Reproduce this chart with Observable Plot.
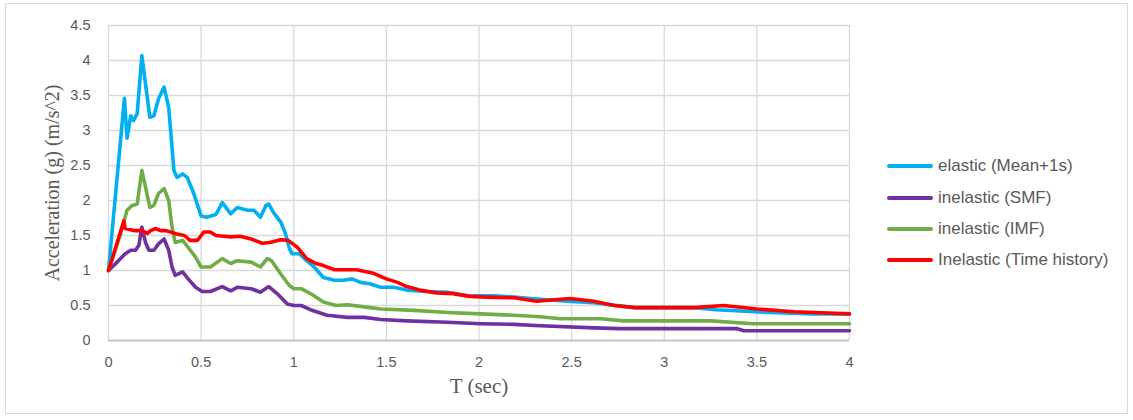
<!DOCTYPE html>
<html>
<head>
<meta charset="utf-8">
<script src="https://cdn.jsdelivr.net/npm/d3@7"></script>
<script src="https://cdn.jsdelivr.net/npm/@observablehq/plot@0.6"></script>
<style>
  body { margin: 0; background: #fff; }
  #wrap { position: relative; width: 1133px; height: 420px; overflow: hidden; }
  #frame { position: absolute; left: 5px; top: 3px; width: 1123px; height: 411px; border: 1px solid #d9d9d9; box-sizing: border-box; pointer-events: none; }
  #chart { position: absolute; left: 0; top: 0; }
  .leg { position: absolute; left: 887px; display: flex; align-items: center; font-family: "Liberation Sans", "DejaVu Sans", sans-serif; font-size: 17px; color: #595959; white-space: nowrap; }
  .leg .sw { width: 46px; height: 4.5px; border-radius: 2px; margin-right: 5px; }
</style>
</head>
<body>
<div id="wrap">
  <div id="chart"></div>
  <div id="frame"></div>
</div>
<script>
// ---- Data ----
const seriesNames = ["elastic (Mean+1s)", "inelastic (SMF)", "inelastic (IMF)", "Inelastic (Time history)"];
const seriesColors = ["#00b0f0", "#7030a0", "#70ad47", "#ff0000"];

const xTicks = [0, 0.5, 1, 1.5, 2, 2.5, 3, 3.5, 4];
const yTicks = [0, 0.5, 1, 1.5, 2, 2.5, 3, 3.5, 4, 4.5];

const elasticT = [0, 0.086, 0.10, 0.12, 0.135, 0.155, 0.18, 0.223, 0.245, 0.27, 0.30, 0.325, 0.353, 0.37, 0.40, 0.425, 0.46, 0.50, 0.53, 0.58, 0.614, 0.66, 0.695, 0.75, 0.785, 0.82, 0.85, 0.865, 0.89, 0.93, 0.955, 0.975, 0.99, 1.03, 1.07, 1.11, 1.16, 1.22, 1.27, 1.315, 1.36, 1.41, 1.47, 1.54, 1.61, 1.72, 1.83, 1.94, 2.08, 2.19, 2.28, 2.47, 2.62, 2.84, 3.16, 3.28, 3.57, 3.8, 4.0];
const elasticA = [1, 3.46, 2.89, 3.21, 3.14, 3.24, 4.07, 3.19, 3.21, 3.45, 3.62, 3.33, 2.43, 2.33, 2.38, 2.33, 2.10, 1.78, 1.76, 1.80, 1.97, 1.81, 1.90, 1.86, 1.86, 1.76, 1.93, 1.95, 1.83, 1.69, 1.53, 1.33, 1.24, 1.24, 1.14, 1.05, 0.90, 0.86, 0.86, 0.88, 0.83, 0.81, 0.76, 0.76, 0.72, 0.70, 0.69, 0.64, 0.64, 0.62, 0.60, 0.56, 0.54, 0.47, 0.47, 0.44, 0.40, 0.38, 0.38];

const smfT = [0, 0.047, 0.09, 0.12, 0.146, 0.164, 0.18, 0.20, 0.218, 0.245, 0.27, 0.30, 0.325, 0.343, 0.36, 0.40, 0.43, 0.47, 0.505, 0.55, 0.614, 0.66, 0.695, 0.77, 0.82, 0.865, 0.91, 0.965, 1.0, 1.04, 1.09, 1.18, 1.29, 1.38, 1.47, 1.61, 1.83, 2.01, 2.19, 2.33, 2.62, 2.76, 3.39, 3.43, 4.0];
const smfA = [1, 1.12, 1.24, 1.29, 1.29, 1.36, 1.62, 1.40, 1.29, 1.29, 1.38, 1.45, 1.29, 1.05, 0.93, 0.98, 0.88, 0.76, 0.70, 0.70, 0.77, 0.71, 0.76, 0.74, 0.69, 0.77, 0.67, 0.52, 0.50, 0.50, 0.44, 0.36, 0.33, 0.33, 0.30, 0.28, 0.26, 0.24, 0.23, 0.21, 0.18, 0.17, 0.17, 0.14, 0.14];

const imfT = [0, 0.065, 0.10, 0.128, 0.155, 0.18, 0.20, 0.223, 0.245, 0.27, 0.30, 0.325, 0.343, 0.36, 0.40, 0.43, 0.47, 0.50, 0.55, 0.614, 0.66, 0.695, 0.77, 0.82, 0.857, 0.88, 0.93, 0.975, 1.0, 1.04, 1.09, 1.16, 1.23, 1.29, 1.38, 1.47, 1.65, 1.83, 2.01, 2.19, 2.33, 2.44, 2.66, 2.78, 3.25, 3.48, 4.0];
const imfA = [1, 1.52, 1.86, 1.93, 1.95, 2.43, 2.19, 1.90, 1.93, 2.10, 2.17, 2.0, 1.62, 1.40, 1.43, 1.33, 1.19, 1.05, 1.05, 1.17, 1.10, 1.14, 1.12, 1.05, 1.17, 1.14, 0.95, 0.79, 0.74, 0.74, 0.67, 0.55, 0.50, 0.51, 0.48, 0.45, 0.43, 0.40, 0.38, 0.36, 0.34, 0.31, 0.31, 0.28, 0.28, 0.24, 0.24];

const thT = [0, 0.083, 0.09, 0.137, 0.18, 0.21, 0.227, 0.254, 0.28, 0.31, 0.335, 0.37, 0.41, 0.44, 0.48, 0.515, 0.55, 0.58, 0.66, 0.71, 0.77, 0.83, 0.87, 0.93, 0.97, 1.02, 1.07, 1.12, 1.16, 1.22, 1.34, 1.43, 1.50, 1.56, 1.61, 1.68, 1.77, 1.86, 1.95, 2.04, 2.19, 2.31, 2.49, 2.62, 2.73, 2.84, 3.16, 3.32, 3.50, 3.70, 4.0];
const thA = [1, 1.71, 1.60, 1.57, 1.57, 1.53, 1.57, 1.60, 1.57, 1.57, 1.55, 1.52, 1.50, 1.43, 1.43, 1.55, 1.55, 1.50, 1.48, 1.49, 1.45, 1.39, 1.40, 1.44, 1.43, 1.33, 1.17, 1.10, 1.07, 1.01, 1.01, 0.96, 0.88, 0.83, 0.77, 0.72, 0.68, 0.67, 0.63, 0.62, 0.61, 0.56, 0.60, 0.56, 0.50, 0.47, 0.47, 0.50, 0.45, 0.41, 0.38];

const xLabel = "T (sec)";
const yLabel = "Acceleration (g) (m/s^2)";

// ---- Build table ----
const seriesT = [elasticT, smfT, imfT, thT];
const seriesA = [elasticA, smfA, imfA, thA];
const table = seriesNames.flatMap((name, i) =>
  seriesT[i].map((t, j) => ({series: name, T: t, A: seriesA[i][j]}))
);

const tickFont = "'Liberation Sans', 'DejaVu Sans', sans-serif";
const titleFont = "'Liberation Serif', 'DejaVu Serif', serif";

const chart = Plot.plot({
  width: 1133,
  height: 420,
  marginLeft: 108,
  marginRight: 284,
  marginTop: 25,
  marginBottom: 80,
  style: {fontFamily: tickFont, fontSize: "14.5px", color: "#595959", background: "transparent"},
  x: {domain: [0, 4], label: null},
  y: {domain: [0, 4.5], label: null},
  color: {domain: seriesNames, range: seriesColors},
  marks: [
    Plot.gridX(xTicks, {stroke: "#d9d9d9", strokeOpacity: 1, strokeWidth: 1.3}),
    Plot.gridY(yTicks, {stroke: "#d9d9d9", strokeOpacity: 1, strokeWidth: 1.3}),
    Plot.ruleY([0], {stroke: "#bfbfbf", strokeWidth: 1.3}),
    Plot.axisX({ticks: xTicks, tickSize: 0, tickPadding: 16, tickFormat: d => String(d), fill: "#595959"}),
    Plot.axisY({ticks: yTicks, tickSize: 0, tickPadding: 18, tickFormat: d => String(d), fill: "#595959"}),
    Plot.line(table, {x: "T", y: "A", z: "series", stroke: "series", strokeWidth: 3.6, strokeLinejoin: "round", strokeLinecap: "round", curve: "linear"}),
    Plot.text([xLabel], {frameAnchor: "bottom", dy: 46, lineAnchor: "middle", textAnchor: "middle", fontFamily: titleFont, fontSize: 21, fill: "#595959"}),
    Plot.text([yLabel], {frameAnchor: "left", dx: -56, rotate: -90, lineAnchor: "middle", textAnchor: "middle", fontFamily: titleFont, fontSize: 20, fill: "#595959"})
  ]
});
document.getElementById("chart").appendChild(chart);

// ---- Legend ----
const legendTops = [166, 198, 229, 260];
const wrap = document.getElementById("wrap");
seriesNames.forEach((name, i) => {
  const row = document.createElement("div");
  row.className = "leg";
  row.style.top = (legendTops[i] - 10) + "px";
  row.style.height = "20px";
  const sw = document.createElement("span");
  sw.className = "sw";
  sw.style.background = seriesColors[i];
  const tx = document.createElement("span");
  tx.textContent = name;
  row.appendChild(sw);
  row.appendChild(tx);
  wrap.appendChild(row);
});
</script>
</body>
</html>
